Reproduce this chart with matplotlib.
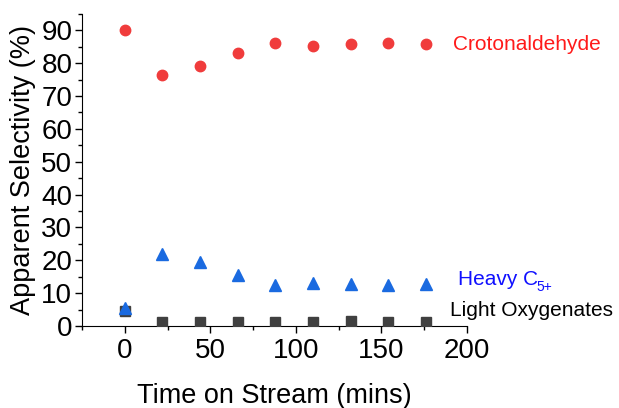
import matplotlib
matplotlib.use('Agg')
import matplotlib.pyplot as plt
from matplotlib.ticker import MultipleLocator

plt.rcParams['font.family'] = 'Liberation Sans'

time_min = [0, 22, 44, 66, 88, 110, 132, 154, 176]
croton = [90.0, 76.5, 79.0, 83.0, 86.0, 85.2, 85.7, 86.0, 85.7]
heavy = [5.5, 22.0, 19.5, 15.5, 12.5, 13.2, 12.8, 12.5, 12.8]
light = [4.5, 1.2, 1.2, 1.3, 1.2, 1.3, 1.4, 1.2, 1.3]

fig = plt.figure(figsize=(6.19, 4.08), dpi=100)
ax = fig.add_axes([0.1325, 0.201, 0.622, 0.765])

ax.plot(time_min, light, 's', color='#404040', markersize=7, zorder=3)
ax.plot(time_min, heavy, '^', color='#1a6ae0', markersize=8, zorder=4)
ax.plot(time_min, croton, 'o', color='#f03c3c', markersize=7.5, zorder=3)

ax.set_xlim(-25, 200)
ax.set_ylim(0, 95)
ax.xaxis.set_major_locator(MultipleLocator(50))
ax.xaxis.set_minor_locator(MultipleLocator(25))
ax.yaxis.set_major_locator(MultipleLocator(10))
ax.yaxis.set_minor_locator(MultipleLocator(5))
ax.spines['top'].set_visible(False)
ax.spines['right'].set_visible(False)
ax.tick_params(which='major', length=5, width=1, labelsize=20)
ax.tick_params(which='minor', length=3, width=1)
ax.tick_params(axis='x', pad=4)
ax.tick_params(axis='y', pad=2)

ax.set_xlabel('Time on Stream (mins)', fontsize=19.5, labelpad=13)
ax.set_ylabel('Apparent Selectivity (%)', fontsize=19.5, labelpad=4)

ax.text(191.8, 85.7, 'Crotonaldehyde', color='#ff1a1a', fontsize=15,
        va='center', clip_on=False)
t = ax.text(194.8, 14.0, 'Heavy C', color='#1010ff', fontsize=15,
            va='center', clip_on=False)
ax.annotate('5+', xy=(1, 0), xycoords=t, xytext=(-1, -3),
            textcoords='offset points', color='#1010ff', fontsize=10,
            va='bottom', annotation_clip=False)
ax.text(190.1, 4.6, 'Light Oxygenates', color='black', fontsize=15,
        va='center', clip_on=False)

plt.savefig('out.png', dpi=100)
